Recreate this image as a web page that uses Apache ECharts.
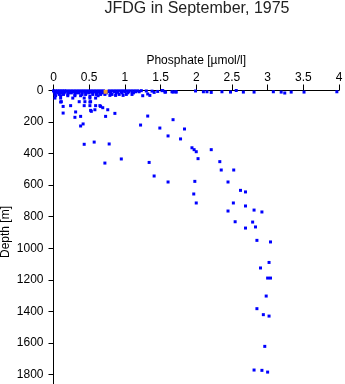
<!DOCTYPE html>
<html>
<head>
<meta charset="utf-8">
<script src="https://cdn.jsdelivr.net/npm/echarts@6/dist/echarts.min.js"></script>
<style>
  html, body { margin: 0; padding: 0; background: #fff; }
  #chart { width: 345px; height: 384px; }
</style>
</head>
<body>
<div id="chart"></div>
<script>
// Phosphate profile, JFDG cruise, September 1975
const titleText = 'JFDG in September, 1975';
const xName = 'Phosphate [\u00b5mol/l]';
const yName = 'Depth [m]';
const xTicks = [0, 0.5, 1, 1.5, 2, 2.5, 3, 3.5, 4];
const yTicks = [0, 200, 400, 600, 800, 1000, 1200, 1400, 1600, 1800];

// surface layer samples (phosphate µmol/l, depth m)
const surfacePhosphate = [
  0.00, 0.03, 0.06, 0.09, 0.12, 0.15, 0.18, 0.22, 0.26, 0.30, 0.34, 0.38, 0.42, 0.46, 0.50, 0.54, 0.58, 0.62, 0.66, 0.70,
  0.78, 0.82, 0.86, 0.90, 0.94, 0.98, 1.02, 1.06, 1.10, 1.14, 1.18, 1.23, 1.30, 1.38, 1.46, 1.52,
  0.01, 0.05, 0.08, 0.12, 0.16, 0.20, 0.24, 0.28, 0.32, 0.36, 0.40, 0.44, 0.48, 0.52, 0.56, 0.60, 0.64, 0.68, 0.76, 0.80,
  0.85, 0.90, 0.95, 1.00, 1.05, 1.10, 1.15, 1.20, 1.41, 1.53, 1.56, 1.66, 1.71, 1.57, 1.675, 1.72,
  0.02, 0.06, 0.11, 0.15, 0.21, 0.25, 0.31, 0.35, 0.40, 0.46, 0.50, 0.55, 0.61, 0.65, 0.70, 0.74, 0.80, 0.88, 0.96, 1.04, 1.12,
  0.02, 0.08, 0.14, 0.20, 0.30, 0.40, 0.45, 0.55, 0.60, 0.66, 0.72, 0.82, 0.92, 1.02, 1.10, 1.32,
  0.03, 0.10, 0.20, 0.30, 0.38, 0.51, 0.625, 0.79, 0.87, 0.975, 1.25, 1.35,
  1.99, 2.10, 2.15, 2.21, 2.36, 2.48, 2.56, 2.66, 2.81, 3.08, 3.19, 3.24, 3.33, 3.51, 3.97
];
const surfaceDepth = [
  2, 2, 2, 2, 2, 2, 2, 2, 2, 2, 2, 2, 2, 2, 2, 2, 2, 2, 2, 2,
  2, 2, 2, 2, 2, 2, 2, 2, 2, 2, 2, 1, 3, 4, 6, 1,
  8, 8, 8, 8, 8, 8, 8, 8, 8, 8, 8, 8, 8, 8, 8, 8, 8, 8, 8, 8,
  8, 8, 8, 8, 8, 8, 8, 8, 12, 0, 10, 8, 8, 10, 10, 10,
  15, 15, 15, 15, 15, 15, 15, 15, 15, 15, 15, 15, 15, 15, 15, 15, 15, 15, 15, 15, 15,
  25, 25, 25, 25, 25, 25, 25, 25, 25, 25, 25, 25, 25, 25, 25, 22,
  33, 33, 33, 33, 33, 37, 33, 31, 31, 31, 33, 31,
  3, 8, 8, 12, 8, 10, 0, 10, 10, 8, 10, 16, 10, 10, 8
];

// intermediate and deep samples
const deepPhosphate = [
  0.02, 0.10, 0.27, 0.43, 0.51, 0.59, 0.10, 0.11, 0.36, 0.44, 0.51, 0.52,
  0.135, 0.24, 0.43, 0.51, 0.59, 0.65, 0.66, 0.69, 0.52, 0.58, 0.76, 0.53,
  0.135, 0.31, 0.86, 0.30, 0.38, 0.73, 0.415, 0.38,
  1.32, 1.675, 1.22, 1.49, 1.835, 1.605, 1.78, 0.43, 0.57, 0.78, 0.72, 0.95, 1.34, 1.41, 1.605,
  1.94, 1.97, 2.00, 2.21, 2.025, 2.33, 2.35, 2.525, 1.98, 2.445, 2.62, 2.69, 1.965,
  2.00, 2.52, 2.69, 2.445, 2.81, 2.92, 2.545, 2.79, 2.69, 2.83, 2.85, 3.04,
  3.02, 2.90, 3.00, 3.04, 2.98, 2.85, 2.94, 3.02, 2.96, 2.81, 2.92, 3.00
];
const deepDepth = [
  48, 48, 48, 48, 48, 48, 73, 71, 71, 71, 73, 71,
  101, 96, 96, 96, 96, 96, 101, 109, 126, 122, 122, 132,
  143, 136, 145, 170, 164, 164, 212, 225,
  162, 185, 219, 238, 244, 288, 307, 341, 327, 339, 460, 434, 456, 542, 580,
  363, 375, 388, 375, 432, 451, 504, 504, 576, 580, 633, 643, 656,
  713, 713, 732, 764, 758, 770, 832, 834, 872, 865, 950, 960,
  1090, 1125, 1189, 1189, 1303, 1383, 1421, 1430, 1622, 1772, 1774, 1785
];

// highlighted station
const markedPhosphate = [0.73];
const markedDepth = [8];

function pairs(xs, ys) {
  return xs.map((x, i) => [x, ys[i]]);
}

const font = 'Liberation Sans, Arial, Helvetica, sans-serif';
const chart = echarts.init(document.getElementById('chart'), null, { renderer: 'canvas' });

chart.setOption({
  animation: false,
  backgroundColor: '#ffffff',
  title: {
    text: titleText,
    left: 192,
    textAlign: 'center',
    top: -4,
    textStyle: { fontFamily: font, fontSize: 16, fontWeight: 'normal', color: '#222' }
  },
  graphic: [{
    type: 'text',
    left: 0,
    top: 206,
    rotation: Math.PI / 2,
    style: { text: yName, font: '12px ' + font, fill: '#000' }
  }],
  grid: { left: 53.5, right: 6, top: 90.5, bottom: -22, outerBoundsMode: 'none', containLabel: false },
  xAxis: {
    type: 'value',
    position: 'top',
    min: 0,
    max: 4,
    interval: 0.5,
    name: xName,
    nameLocation: 'middle',
    nameGap: 23,
    nameTextStyle: { fontFamily: font, fontSize: 12, color: '#000' },
    axisLine: { show: true, lineStyle: { color: '#000', width: 1 } },
    axisTick: { show: true, length: 6, lineStyle: { color: '#000' } },
    axisLabel: {
      margin: 7,
      fontFamily: font, fontSize: 12, color: '#000',
      formatter: v => (xTicks.indexOf(v) >= 0 ? String(v) : '')
    },
    splitLine: { show: false }
  },
  yAxis: {
    type: 'value',
    inverse: true,
    min: 0,
    max: 2000,
    interval: 200,
    axisLine: { show: true, lineStyle: { color: '#000', width: 1 } },
    axisTick: { show: true, length: 5, lineStyle: { color: '#000' } },
    axisLabel: {
      margin: 10,
      fontFamily: font, fontSize: 12, color: '#000',
      formatter: v => (yTicks.indexOf(v) >= 0 ? String(v) : '')
    },
    splitLine: { show: false }
  },
  series: [
    {
      type: 'scatter',
      symbol: 'rect',
      symbolSize: 3,
      itemStyle: { color: '#0000ff', opacity: 1 },
      data: pairs(surfacePhosphate, surfaceDepth)
    },
    {
      type: 'scatter',
      symbol: 'rect',
      symbolSize: 3,
      itemStyle: { color: '#0000ff', opacity: 1 },
      data: pairs(deepPhosphate, deepDepth)
    },
    {
      type: 'scatter',
      symbol: 'rect',
      symbolSize: 4,
      itemStyle: { color: '#f0a030', opacity: 1 },
      z: 5,
      data: pairs(markedPhosphate, markedDepth)
    }
  ]
});
</script>
</body>
</html>
